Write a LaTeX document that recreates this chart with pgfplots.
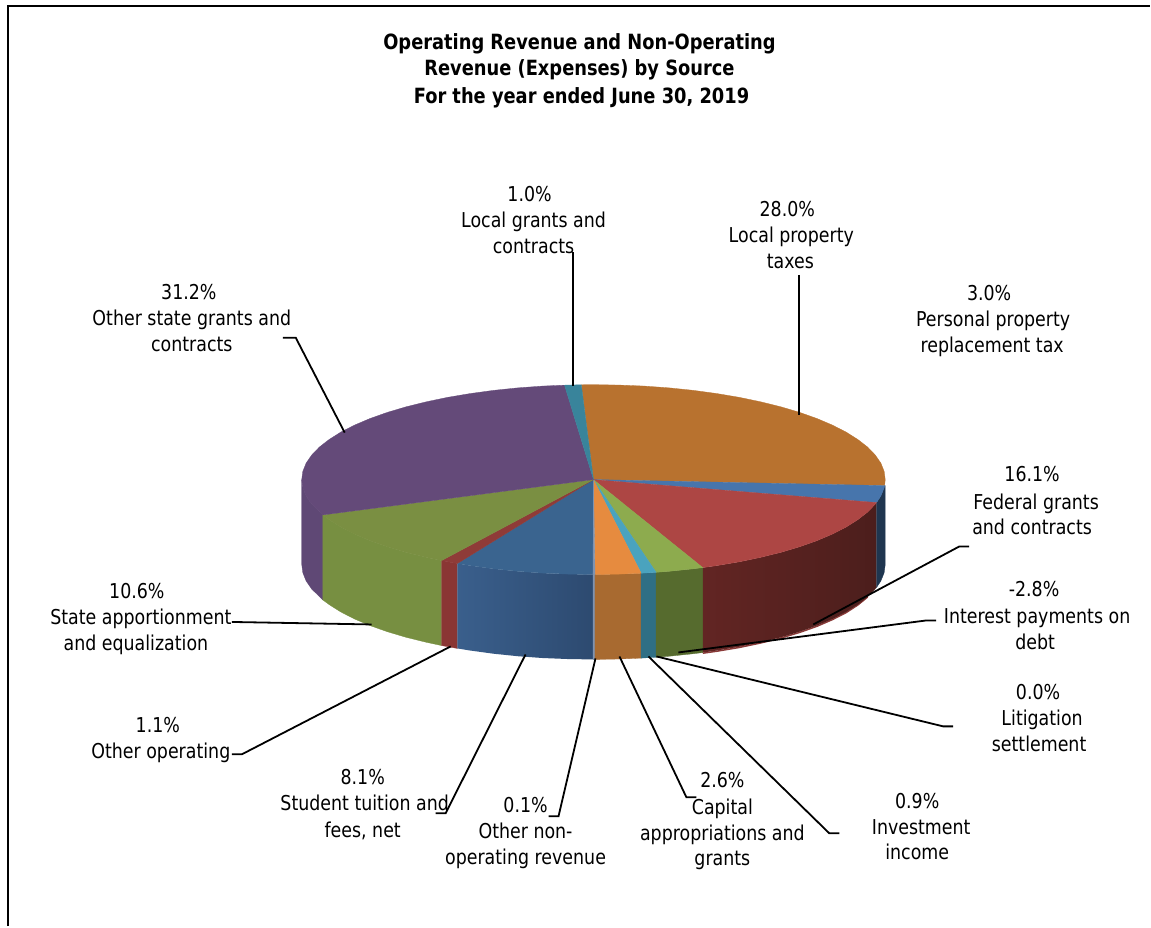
\documentclass[border=0pt]{standalone}
\usepackage{fontspec}
\usepackage{pgfplots}
\pgfplotsset{compat=1.18}
\setmainfont{DejaVu Sans}[FakeStretch=0.85]
\definecolor{brownT}{HTML}{B8722F}
\definecolor{steelT}{HTML}{4775AC}
\definecolor{steelS}{HTML}{1F3650}
\definecolor{redT}{HTML}{AD4644}
\definecolor{redSa}{HTML}{622523}
\definecolor{redSb}{HTML}{4C1E1C}
\definecolor{redRim}{HTML}{8A3A38}
\definecolor{greenT}{HTML}{8DAB4E}
\definecolor{greenS}{HTML}{566B2E}
\definecolor{aquaT}{HTML}{4AA3BE}
\definecolor{aquaS}{HTML}{2F6F85}
\definecolor{orangeT}{HTML}{E68B3F}
\definecolor{orangeS}{HTML}{A86A30}
\definecolor{sliverT}{HTML}{7F93B0}
\definecolor{navyT}{HTML}{3A648F}
\definecolor{navySa}{HTML}{3A5F8C}
\definecolor{navySb}{HTML}{2D4A70}
\definecolor{wineT}{HTML}{8F3B38}
\definecolor{wineS}{HTML}{8A3634}
\definecolor{oliveT}{HTML}{7A8F42}
\definecolor{oliveS}{HTML}{778F41}
\definecolor{purpleT}{HTML}{644A79}
\definecolor{purpleS}{HTML}{5F4875}
\definecolor{tealT}{HTML}{39849B}
\newcommand{\lbl}[3]{\node[anchor=base,inner sep=0pt,yshift=-1pt,font=\fontsize{20.5}{24}\selectfont] at (axis cs:#1,#2) {#3};}
\newcommand{\ttl}[3]{\node[anchor=base,inner sep=0pt,yshift=-1pt,font=\fontsize{21}{25}\selectfont\bfseries] at (axis cs:#1,#2) {#3};}
\begin{document}
\begin{tikzpicture}
\begin{axis}[
  scale only axis, width=1151pt, height=927pt,
  xmin=0, xmax=1151, ymin=0, ymax=927, y dir=reverse,
  hide axis, clip=false,
  every axis plot/.append style={forget plot, no markers},
  wedge/.style={draw=#1, line width=0.3pt, fill=#1},
  leader/.style={black, line width=1.8pt, line join=miter},
]
% page background and frame
\addplot[fill=white, draw=none] coordinates {(0,0)(1151,0)(1151,927)(0,927)(0,0)};
\addplot[black, line width=2pt] coordinates {(8,927)(8,6)(1151,6)};

% rim below the federal slice
\addplot[redRim, line width=1.5pt] coordinates {(703.4,653.8)(717.4,651.8)(740,648)(761.5,643.5)(781.7,638.5)(800.5,632.9)(817.7,626.8)(833.2,620.1)(846.9,613.1)(858.6,605.5)(868.4,597.5)};

% side walls
\addplot[wedge=purpleS] coordinates {(323.1,515.4)(312,504.6)(306.4,496.5)(303.1,488.3)(302,480)(302,565)(303.1,573.3)(306.4,581.5)(312,589.6)(323.1,600.4)(323.1,515.4)};
\addplot[wedge=oliveS] coordinates {(441.9,561.1)(426.5,557.8)(406.3,552.8)(387.5,547.2)(370.3,541.1)(354.8,534.5)(341.1,527.5)(329.4,520.1)(323.1,515.4)(323.1,600.4)(329.4,605.1)(341.1,612.5)(354.8,619.5)(370.3,626.1)(387.5,632.2)(406.3,637.8)(426.5,642.8)(441.9,646.1)(441.9,561.1)};
\addplot[wedge=wineS] coordinates {(457.8,564)(441.9,561.1)(441.9,646.1)(457.8,649)(457.8,564)};
\addplot[draw=none, left color=navySa, right color=navySb] coordinates {(593.5,575)(568.5,574.6)(543.3,573.6)(518.4,571.8)(494.1,569.3)(470.6,566.1)(457.8,564)(457.8,649)(470.6,651.1)(494.1,654.3)(518.4,656.8)(543.3,658.6)(568.5,659.6)(593.5,660)(593.5,575)};
\addplot[wedge=sliverT] coordinates {(593.5,575)(595.5,575)(595.5,660)(593.5,660)(593.5,575)};
\addplot[wedge=orangeS] coordinates {(595.5,575)(619.5,574.6)(641.7,573.7)(641.7,658.7)(619.5,659.6)(595.5,660)(595.5,575)};
\addplot[wedge=aquaS] coordinates {(641.7,573.7)(656.7,572.8)(656.7,657.8)(641.7,658.7)(641.7,573.7)};
\addplot[wedge=greenS] coordinates {(656.7,572.8)(669.6,571.8)(693.9,569.3)(703.4,568.1)(703.4,653.1)(693.9,654.3)(669.6,656.8)(656.7,657.8)(656.7,572.8)};
\addplot[draw=none, left color=redSa, right color=redSb] coordinates {(703.4,568.1)(717.4,566.1)(740,562.3)(761.5,557.8)(781.7,552.8)(800.5,547.2)(817.7,541.1)(833.2,534.5)(846.9,527.5)(858.6,520.1)(868.4,512.5)(876,504.6)(877.3,503)(877.3,588)(876,589.6)(868.4,597.5)(858.6,605.1)(846.9,612.5)(833.2,619.5)(817.7,626.1)(800.5,632.2)(781.7,637.8)(761.5,642.8)(740,647.3)(717.4,651.1)(703.4,653.1)(703.4,568.1)};
\addplot[wedge=steelS] coordinates {(885.4,486)(884.9,488.3)(881.6,496.5)(877.3,503)(877.3,588)(881.6,581.5)(884.9,573.3)(886,565)(886,486)(885.4,486)};

% top faces
\addplot[wedge=brownT] coordinates {(594,480)(581.8,385.1)(594,385)(619.5,385.4)(644.7,386.4)(669.6,388.2)(693.9,390.7)(717.4,393.9)(740,397.7)(761.5,402.2)(781.7,407.2)(800.5,412.8)(817.7,418.9)(833.2,425.5)(846.9,432.5)(858.6,439.9)(868.4,447.5)(876,455.4)(881.6,463.5)(884.9,471.7)(886,480)(885.4,486)(594,480)};
\addplot[wedge=steelT] coordinates {(594,480)(885.4,486)(884.9,488.3)(881.6,496.5)(877.3,503)(594,480)};
\addplot[wedge=redT] coordinates {(594,480)(877.3,503)(876,504.6)(868.4,512.5)(858.6,520.1)(846.9,527.5)(833.2,534.5)(817.7,541.1)(800.5,547.2)(781.7,552.8)(761.5,557.8)(740,562.3)(717.4,566.1)(703.4,568.1)(594,480)};
\addplot[wedge=greenT] coordinates {(594,480)(703.4,568.1)(693.9,569.3)(669.6,571.8)(656.7,572.8)(594,480)};
\addplot[wedge=aquaT] coordinates {(594,480)(656.7,572.8)(641.7,573.7)(594,480)};
\addplot[wedge=orangeT] coordinates {(594,480)(641.7,573.7)(619.5,574.6)(595.5,575)(594,480)};
\addplot[wedge=navyT] coordinates {(594,480)(593.5,575)(568.5,574.6)(543.3,573.6)(518.4,571.8)(494.1,569.3)(470.6,566.1)(457.8,564)(594,480)};
\addplot[wedge=sliverT] coordinates {(594,480)(595.5,575)(593.5,575)(594,480)};
\addplot[wedge=wineT] coordinates {(594,480)(457.8,564)(441.9,561.1)(594,480)};
\addplot[wedge=oliveT] coordinates {(594,480)(441.9,561.1)(426.5,557.8)(406.3,552.8)(387.5,547.2)(370.3,541.1)(354.8,534.5)(341.1,527.5)(329.4,520.1)(323.1,515.4)(594,480)};
\addplot[wedge=purpleT] coordinates {(594,480)(323.1,515.4)(312,504.6)(306.4,496.5)(303.1,488.3)(302,480)(303.1,471.7)(306.4,463.5)(312,455.4)(319.6,447.5)(329.4,439.9)(341.1,432.5)(354.8,425.5)(370.3,418.9)(387.5,412.8)(406.3,407.2)(426.5,402.2)(448,397.7)(470.6,393.9)(494.1,390.7)(518.4,388.2)(543.3,386.4)(565,385.5)(594,480)};
\addplot[wedge=tealT] coordinates {(594,480)(565,385.5)(581.8,385.1)(594,480)};

% leader lines
\addplot[leader] coordinates {(573.5,252)(573.5,386)};
\addplot[leader] coordinates {(800,275)(800,415)};
\addplot[leader] coordinates {(283,338)(296,338)(345,433)};
\addplot[leader] coordinates {(970,547)(960,547)(814,625)};
\addplot[leader] coordinates {(937,621)(927,621)(679,653)};
\addplot[leader] coordinates {(954,727)(944,727)(657,657)};
\addplot[leader] coordinates {(840,834)(830,834)(649,657)};
\addplot[leader] coordinates {(697,798)(687,798)(620,657)};
\addplot[leader] coordinates {(549,817)(559,817)(596,659)};
\addplot[leader] coordinates {(436,814)(446,814)(526,655)};
\addplot[leader] coordinates {(232,755)(242,755)(451,647)};
\addplot[leader] coordinates {(232,622.5)(372,625)};

% title
\ttl{580}{49}{Operating Revenue and Non-Operating}
\ttl{580}{75}{Revenue (Expenses) by Source}
\ttl{582}{103}{For the year ended June 30, 2019}

% slice labels
\lbl{530}{201}{1.0\%}
\lbl{534}{227}{Local grants and}
\lbl{534}{253}{contracts}
\lbl{788}{216}{28.0\%}
\lbl{792}{242}{Local property}
\lbl{791}{268}{taxes}
\lbl{990}{300}{3.0\%}
\lbl{994}{326}{Personal property}
\lbl{993}{352}{replacement tax}
\lbl{189}{299}{31.2\%}
\lbl{192}{325}{Other state grants and}
\lbl{192}{351}{contracts}
\lbl{1033}{481}{16.1\%}
\lbl{1037}{509}{Federal grants}
\lbl{1033}{534}{and contracts}
\lbl{1035}{596}{-2.8\%}
\lbl{1038}{623}{Interest payments on}
\lbl{1036}{649}{debt}
\lbl{1039}{699}{0.0\%}
\lbl{1043}{725}{Litigation}
\lbl{1040}{751}{settlement}
\lbl{918}{808}{0.9\%}
\lbl{922}{834}{Investment}
\lbl{918}{859}{income}
\lbl{137}{598}{10.6\%}
\lbl{141}{624}{State apportionment}
\lbl{136}{650}{and equalization}
\lbl{158}{732}{1.1\%}
\lbl{161}{758}{Other operating}
\lbl{363}{784}{8.1\%}
\lbl{365}{810}{Student tuition and}
\lbl{363}{837}{fees, net}
\lbl{526}{812}{0.1\%}
\lbl{526}{838}{Other non-}
\lbl{526}{864}{operating revenue}
\lbl{723}{787}{2.6\%}
\lbl{723}{814}{Capital}
\lbl{723}{840}{appropriations and}
\lbl{723}{865}{grants}
\end{axis}
\end{tikzpicture}
\end{document}
